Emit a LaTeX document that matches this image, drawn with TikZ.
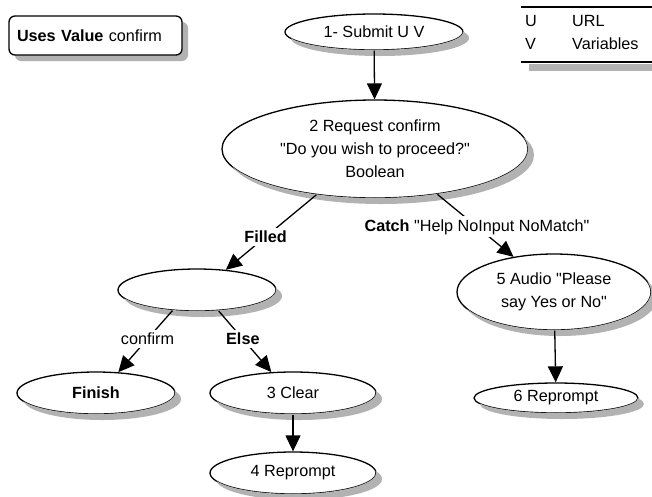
\documentclass[tikz,border=0pt]{standalone}
\usepackage{fontspec}
\newfontfamily\mf{Liberation Sans}
\usetikzlibrary{shapes.geometric,arrows.meta}
\newcommand\eshadow[3]{%
  \begin{scope}[even odd rule]
    \clip (-20,-20) rectangle (680,520)
      (#1.center) ellipse [x radius=#2, y radius=#3];
    \fill[black!30] ([shift={(6pt,-6pt)}]#1.center) ellipse [x radius=#2, y radius=#3];
  \end{scope}}
\begin{document}
\begin{tikzpicture}[x=1pt,y=-1pt,
  every node/.style={font=\mf\fontsize{16.2}{23}\selectfont},
  ell/.style={ellipse,draw,line width=1.3pt,fill=white,inner sep=0pt,align=center},
  arr/.style={line width=1.3pt,-{Triangle[length=16pt,width=15pt]}},
  lbl/.style={fill=white,inner sep=3pt},
  rule/.style={line width=1.3pt}
]
\useasboundingbox (0,0) rectangle (652,496);

% legend box
\fill[black!30,rounded corners=6pt] (15,22) rectangle (188,61);
\node[draw,rounded corners=6pt,line width=1.3pt,fill=white,
  minimum width=173pt,minimum height=39pt,inner sep=8pt,text width=157pt,align=left]
  (uses) at (95.5,35.5) {\textbf{Uses Value} confirm};

% table
\fill[black!30] (529,64) rectangle (652,71);
\draw[rule] (521,7) -- (652,7);
\draw[rule] (521,62) -- (652,62);
\node[anchor=west,inner sep=0pt] (tu) at (525,21) {U};
\node[anchor=west,inner sep=0pt] (turl) at (572,21) {URL};
\node[anchor=west,inner sep=0pt] (tv) at (525,44) {V};
\node[anchor=west,inner sep=0pt] (tvar) at (572,44) {Variables};

% nodes
\node[ell,minimum width=178pt,minimum height=36pt] (submit) at (374,32) {1- Submit U V};
\node[ell,minimum width=306pt,minimum height=98pt] (req) at (375,149)
  {2 Request confirm\\"Do you wish to proceed?"\\Boolean};
\node[ell,minimum width=158pt,minimum height=42pt] (empty) at (197,290) {};
\node[ell,minimum width=194pt,minimum height=76pt] (audio) at (554,292)
  {5 Audio "Please\\say Yes or No"};
\node[ell,minimum width=164pt,minimum height=30pt] (rep6) at (556,398) {6 Reprompt};
\node[ell,minimum width=158pt,minimum height=42pt] (finish) at (96,393) {\textbf{Finish}};
\node[ell,minimum width=166pt,minimum height=42pt] (clear) at (293,393) {3 Clear};
\node[ell,minimum width=166pt,minimum height=42pt] (rep4) at (293,473) {4 Reprompt};

% shadows (outside each ellipse)
\eshadow{submit}{89}{18}
\eshadow{req}{153}{49}
\eshadow{empty}{79}{21}
\eshadow{audio}{97}{38}
\eshadow{rep6}{82}{15}
\eshadow{finish}{79}{21}
\eshadow{clear}{83}{21}
\eshadow{rep4}{83}{21}

% connectors
\draw[arr] (submit) -- (req);
\draw[arr] (req.218) -- node[lbl,pos=0.56] (filled) {\textbf{Filled}} (empty.35);
\draw[arr] (req.324) -- node[lbl,pos=0.52] (catch) {\textbf{Catch} "Help NoInput NoMatch"} (audio.139);
\draw[arr] (audio) -- (rep6);
\draw[arr] (empty.220) -- node[lbl,pos=0.46] (lconfirm) {confirm} (finish.43);
\draw[arr] (empty.316) -- node[lbl,pos=0.46] (lelse) {\textbf{Else}} (clear.136);
\draw[arr] (clear) -- (rep4);
\end{tikzpicture}
\end{document}
